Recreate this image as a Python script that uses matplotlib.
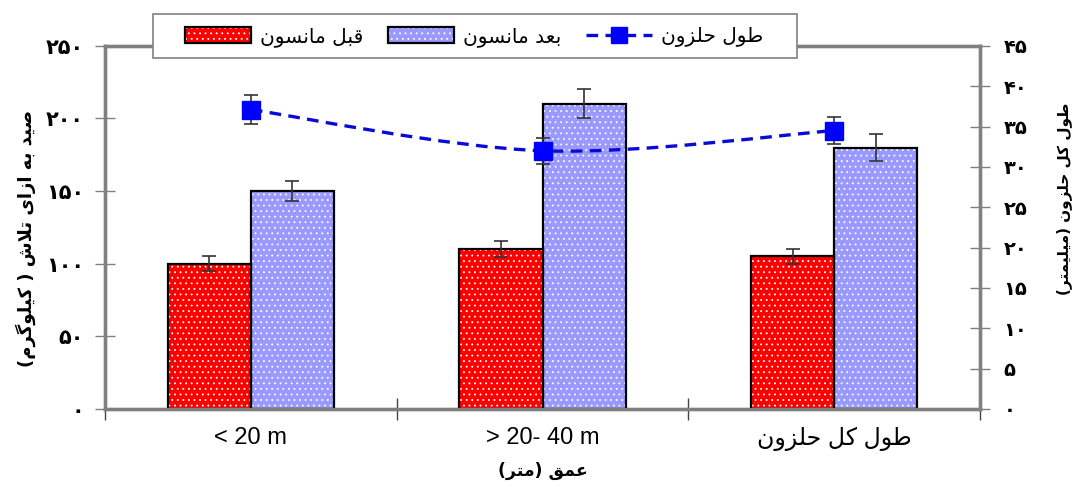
import matplotlib
import matplotlib.pyplot as plt
from matplotlib.patches import Patch, PathPatch, Rectangle
from matplotlib.lines import Line2D
from matplotlib.path import Path
import numpy as np
matplotlib.use('Agg')

# data
categories = ['< 20 m', '> 20- 40 m', 'طول کل حلزون']
before = [100, 110, 105]
before_err = [5, 5.5, 5]
after = [150, 210, 180]
after_err = [7, 10, 9]
snail_len = [37.1, 32.0, 34.5]
snail_err = [1.8, 1.6, 1.7]
left_ticks = [0, 50, 100, 150, 200, 250]
right_ticks = [0, 5, 10, 15, 20, 25, 30, 35, 40, 45]

label_before = 'قبل مانسون'
label_after = 'بعد مانسون'
label_line = 'طول حلزون'
ylabel_left = 'صید به ازای تلاش ( کیلوگرم)'
ylabel_right = 'طول کل حلزون (میلیمتر)'
xlabel = 'عمق (متر)'

# matplotlib has no arabic shaping, so map letters to presentation forms
FORMS = {
    'ا': ('\ufe8d', '\ufe8e', None, None),
    'ب': ('\ufe8f', '\ufe90', '\ufe91', '\ufe92'),
    'ت': ('\ufe95', '\ufe96', '\ufe97', '\ufe98'),
    'ح': ('\ufea1', '\ufea2', '\ufea3', '\ufea4'),
    'د': ('\ufea9', '\ufeaa', None, None),
    'ر': ('\ufead', '\ufeae', None, None),
    'ز': ('\ufeaf', '\ufeb0', None, None),
    'س': ('\ufeb1', '\ufeb2', '\ufeb3', '\ufeb4'),
    'ش': ('\ufeb5', '\ufeb6', '\ufeb7', '\ufeb8'),
    'ص': ('\ufeb9', '\ufeba', '\ufebb', '\ufebc'),
    'ط': ('\ufec1', '\ufec2', '\ufec3', '\ufec4'),
    'ع': ('\ufec9', '\ufeca', '\ufecb', '\ufecc'),
    'ق': ('\ufed5', '\ufed6', '\ufed7', '\ufed8'),
    'ك': ('\ufed9', '\ufeda', '\ufedb', '\ufedc'),
    'ل': ('\ufedd', '\ufede', '\ufedf', '\ufee0'),
    'م': ('\ufee1', '\ufee2', '\ufee3', '\ufee4'),
    'ن': ('\ufee5', '\ufee6', '\ufee7', '\ufee8'),
    'ه': ('\ufee9', '\ufeea', '\ufeeb', '\ufeec'),
    'و': ('\ufeed', '\ufeee', None, None),
    'ي': ('\ufef1', '\ufef2', '\ufef3', '\ufef4'),
    'ی': ('\ufbfc', '\ufbfd', '\ufbfe', '\ufbff'),
    'ک': ('\ufb8e', '\ufb8f', '\ufb90', '\ufb91'),
    'گ': ('\ufb92', '\ufb93', '\ufb94', '\ufb95'),
}


def links_next(c):
    return c in FORMS and FORMS[c][2] is not None


def fa(text):
    out = []
    i = 0
    while i < len(text):
        c = text[i]
        prev = text[i - 1] if i > 0 else ''
        nxt = text[i + 1] if i + 1 < len(text) else ''
        if c not in FORMS:
            out.append(c)
            i += 1
            continue
        if c == 'ل' and nxt == 'ا':
            out.append('\ufefc' if links_next(prev) else '\ufefb')
            i += 2
            continue
        iso, fin, ini, med = FORMS[c]
        p = links_next(prev)
        n = ini is not None and nxt in FORMS
        if p and n:
            out.append(med)
        elif p:
            out.append(fin)
        elif n:
            out.append(ini)
        else:
            out.append(iso)
        i += 1
    s = ''.join(reversed(out))
    return s.translate(str.maketrans('()', ')('))


def fa_num(v):
    return str(v).translate(str.maketrans('0123456789', '۰۱۲۳۴۵۶۷۸۹'))


def x_label(t):
    return fa(t) if any(c in FORMS for c in t) else t


plt.rcParams['font.family'] = ['Liberation Sans', 'DejaVu Sans']
plt.rcParams['hatch.linewidth'] = 0.6

red = '#ff0000'
lav = '#9999ff'
grey = '#808080'
line_blue = '#0a0ad8'

fig = plt.figure(figsize=(10.79, 4.88), dpi=100)
ax = fig.add_axes([0.0973, 0.162, 0.811, 0.744])

x = np.arange(len(categories))
w = 0.285

ax.bar(x - w / 2, before, w, color=red, edgecolor='white', hatch='...', linewidth=0, zorder=2)
ax.bar(x - w / 2, before, w, fill=False, edgecolor='black', linewidth=1.6, zorder=3)
ax.bar(x + w / 2, after, w, color=lav, edgecolor='white', hatch='...', linewidth=0, zorder=2)
ax.bar(x + w / 2, after, w, fill=False, edgecolor='black', linewidth=1.6, zorder=3)
ax.errorbar(x - w / 2, before, yerr=before_err, fmt='none', ecolor='#333333',
            elinewidth=1.2, capsize=5, capthick=1.2, zorder=4)
ax.errorbar(x + w / 2, after, yerr=after_err, fmt='none', ecolor='#333333',
            elinewidth=1.2, capsize=5, capthick=1.2, zorder=4)

ax.set_xlim(-0.5, 2.5)
ax.set_ylim(0, 250)
ax.set_yticks(left_ticks)
ax.set_yticklabels([fa_num(v) for v in left_ticks], fontsize=15, fontweight='bold',
                   family='DejaVu Sans')
ax.set_xticks([-0.5, 0.5, 1.5, 2.5])
ax.set_xticklabels([])
ax.set_xticks(x, minor=True)
ax.set_xticklabels([x_label(c) for c in categories], minor=True, fontsize=17)
ax.tick_params(axis='x', which='minor', length=0, pad=13)
ax.tick_params(axis='x', which='major', direction='inout', length=16, width=1, colors='#444444')
ax.tick_params(axis='y', direction='inout', length=14, width=1, color=grey, pad=8)
ax.set_xlabel(fa(xlabel), fontsize=12.5, fontweight='bold', family='DejaVu Sans', labelpad=8)

# snail length on the right axis, smoothed like the spreadsheet line
ax2 = ax.twinx()
ax2.set_ylim(0, 45)
ax2.set_yticks(right_ticks)
ax2.set_yticklabels([fa_num(v) for v in right_ticks], fontsize=14, fontweight='bold',
                    family='DejaVu Sans')
ax2.tick_params(axis='y', direction='inout', length=14, width=1, color=grey, pad=10)

pts = np.column_stack([x, snail_len]).astype(float)
ext = np.vstack([pts[0], pts, pts[-1]])
verts = [pts[0]]
codes = [Path.MOVETO]
for k in range(len(pts) - 1):
    p0, p1, p2, p3 = ext[k], ext[k + 1], ext[k + 2], ext[k + 3]
    verts += [p1 + (p2 - p0) / 6, p2 - (p3 - p1) / 6, p2]
    codes += [Path.CURVE4] * 3
ax2.add_patch(PathPatch(Path(verts, codes), fill=False, edgecolor=line_blue,
                        linewidth=2.4, linestyle=(0, (3.5, 2.2)), zorder=3))
ax2.errorbar(x, snail_len, yerr=snail_err, fmt='s', color='#0000ff', markersize=13,
             ecolor='#333333', elinewidth=1.2, capsize=5, capthick=1.2, zorder=4)

for a in (ax, ax2):
    for s in a.spines.values():
        s.set_color(grey)
        s.set_linewidth(2.4)

fig.text(26 / 1079, 1 - 238 / 488, fa(ylabel_left), rotation=90, ha='center', va='center',
         fontsize=13, fontweight='bold', family='DejaVu Sans')
fig.text(1064 / 1079, 1 - 199 / 488, fa(ylabel_right), rotation=90, ha='center', va='center',
         fontsize=11, fontweight='bold', family='DejaVu Sans')

# legend box spans the same area as in the reference
fig.patches.append(Rectangle((153 / 1079, 1 - 58 / 488), 644 / 1079, 44 / 488,
                             transform=fig.transFigure, facecolor='white', edgecolor=grey,
                             linewidth=1.2, zorder=4))
handles = [
    (Patch(facecolor=red, edgecolor='white', hatch='...', linewidth=0),
     Patch(facecolor='none', edgecolor='black', linewidth=1.6)),
    (Patch(facecolor=lav, edgecolor='white', hatch='...', linewidth=0),
     Patch(facecolor='none', edgecolor='black', linewidth=1.6)),
    Line2D([], [], color=line_blue, linewidth=2.4, linestyle=(0, (3.5, 2.2)),
           marker='s', markersize=11, markerfacecolor='#0000ff', markeredgecolor='#0000ff'),
]
leg = fig.legend(handles, [fa(label_before), fa(label_after), fa(label_line)], ncol=3,
                 loc='center', bbox_to_anchor=(474 / 1079, 1 - 37 / 488),
                 prop={'family': 'DejaVu Sans', 'size': 14.5}, frameon=False,
                 handlelength=3.3, handleheight=0.8, handletextpad=0.45,
                 columnspacing=1.2, borderpad=0.2)
leg.set_zorder(5)

fig.savefig('out.png', dpi=100)
